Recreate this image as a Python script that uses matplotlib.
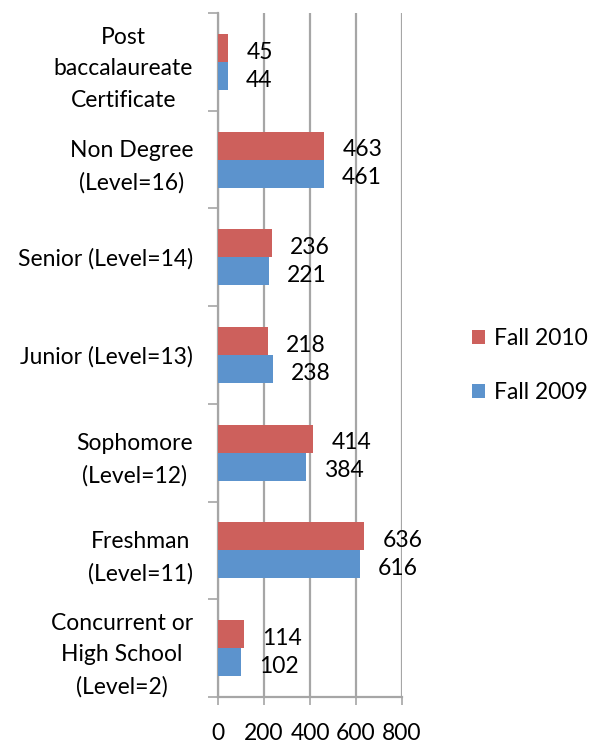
import matplotlib
matplotlib.use("Agg")
import matplotlib.pyplot as plt
import numpy as np

# categories bottom -> top, as drawn
categories = [
    "Concurrent or\nHigh School\n(Level=2)",
    "Freshman\n(Level=11)",
    "Sophomore\n(Level=12)",
    "Junior (Level=13)",
    "Senior (Level=14)",
    "Non Degree\n(Level=16)",
    "Post\nbaccalaureate\nCertificate",
]
fall_2010 = [114, 636, 414, 218, 236, 463, 45]
fall_2009 = [102, 616, 384, 238, 221, 461, 44]
xticks = [0, 200, 400, 600, 800]

red = "#CD605C"
blue = "#5C93CD"
grid_col = "#A6A6A6"

plt.rcParams["font.family"] = ["Lato", "DejaVu Sans"]
fs = 16.5

fig = plt.figure(figsize=(5.92, 7.48), dpi=100)
ax = fig.add_axes([218 / 592, 51 / 748, 184 / 592, 684 / 748])

y = np.arange(len(categories))
h = 0.287
b10 = ax.barh(y + h / 2, fall_2010, height=h, color=red, label="Fall 2010", zorder=3)
b09 = ax.barh(y - h / 2, fall_2009, height=h, color=blue, label="Fall 2009", zorder=3)

for bars, vals in ((b10, fall_2010), (b09, fall_2009)):
    for bar, v in zip(bars, vals):
        ax.annotate(str(v), (bar.get_width(), bar.get_y() + bar.get_height() / 2),
                    xytext=(13, -3), textcoords="offset points",
                    ha="left", va="center", fontsize=fs)

ax.set_xlim(0, 800)
ax.set_ylim(-0.5, len(categories) - 0.5)
ax.set_xticks(xticks)
ax.set_xticklabels([str(t) for t in xticks], fontsize=fs)
ax.xaxis.grid(True, color=grid_col, linewidth=1.6, zorder=0)
ax.tick_params(axis="x", length=6, width=1.2, color=grid_col, pad=13)

ax.set_yticks(y)
ax.set_yticklabels(categories, fontsize=fs, ha="right", multialignment="center",
                   linespacing=1.6)
ax.set_yticks(np.arange(-0.5, len(categories)), minor=True)
ax.tick_params(axis="y", which="major", length=0, pad=18)
ax.tick_params(axis="y", which="minor", length=7, width=1.2, color=grid_col)

for s in ("top", "right"):
    ax.spines[s].set_visible(False)
for s in ("left", "bottom"):
    ax.spines[s].set_color(grid_col)
    ax.spines[s].set_linewidth(1.6)

handles, labels = ax.get_legend_handles_labels()
fig.legend(handles, labels, loc="center left", bbox_to_anchor=(472 / 592, 1 - 365.5 / 748),
           frameon=False, fontsize=fs, handlelength=0.55, handleheight=0.55,
           handletextpad=0.4, labelspacing=1.45, borderpad=0, borderaxespad=0)

fig.savefig("out.png", dpi=100)
